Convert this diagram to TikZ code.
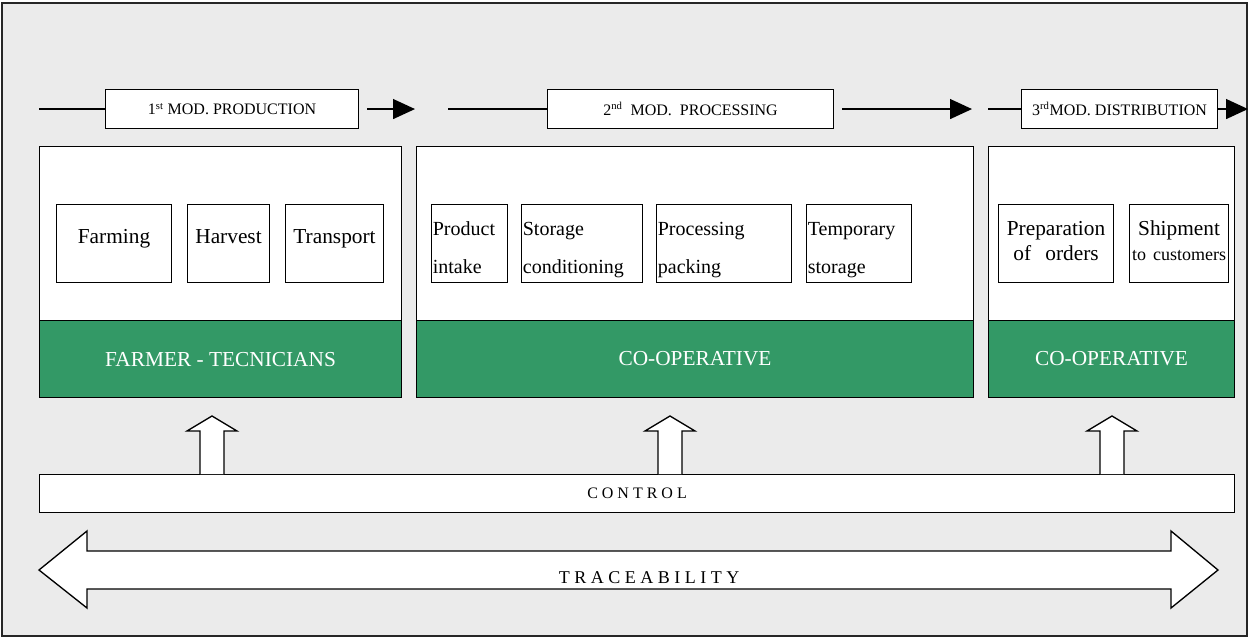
\documentclass[tikz,border=0pt]{standalone}
\usepackage{fontspec}
\setmainfont{Liberation Serif}
\usepackage{xcolor}
\usetikzlibrary{arrows.meta, positioning}

\definecolor{bggray}{HTML}{EBEBEB}
\definecolor{coopgreen}{HTML}{339966}

\tikzset{
  sz/.style 2 args={minimum width=#1*0.75pt, minimum height=#2*0.75pt},
  modbox/.style={draw, thick, fill=white, inner sep=0pt, anchor=north west,
    font=\fontsize{12}{14}\selectfont},
  panel/.style={draw, thick, fill=white, inner sep=0pt, anchor=north west},
  band/.style={draw, thick, fill=coopgreen, text=white, inner sep=0pt,
    anchor=north west, font=\fontsize{16}{19}\selectfont},
  task/.style={draw, thick, fill=white, inner sep=0pt, anchor=north west,
    text height=5pt, text depth=5pt, font=\fontsize{16}{19}\selectfont},
  tasktwo/.style={task, align=left, inner xsep=1pt, text width=#1*0.75pt-2pt,
    text height=2pt, text depth=14pt, font=\fontsize{15}{28.5}\selectfont},
  taskc/.style={task, align=center, text width=#1*0.75pt,
    text height=2pt, text depth=14pt, font=\fontsize{16}{18.75}\selectfont},
  flow/.style={line width=1pt, -{Triangle[length=16.5pt, width=15pt]}},
  block/.style={draw, line width=1pt, fill=white},
}

\begin{document}
\begin{tikzpicture}[x=0.75pt, y=-0.75pt]
  \useasboundingbox (0,0) rectangle (1249,637);
  \draw[line width=1.2pt, draw=black!85, fill=bggray] (2,3) rectangle (1247,636);

  % Modulos
  \node[modbox, sz={253}{39}] (mod1) at (105,89) {1\textsuperscript{st} MOD. PRODUCTION};
  \node[modbox, sz={286}{39}] (mod2) at (547,89) {2\textsuperscript{nd}\ \ MOD.\ \ PROCESSING};
  \node[modbox, sz={196}{39}] (mod3) at (1021,89) {3\textsuperscript{rd}MOD. DISTRIBUTION};
  \coordinate (in1) at (mod1.west -| 39,0);
  \coordinate (in2) at (mod2.west -| 448,0);
  \coordinate (in3) at (mod3.west -| 988,0);
  \coordinate (out1) at (mod1.east -| 415,0);
  \coordinate (out2) at (mod2.east -| 972,0);
  \coordinate (out3) at (mod3.east -| 1248,0);
  \draw[line width=1pt] (in1) -- (mod1.west);
  \draw[line width=1pt] (in2) -- (mod2.west);
  \draw[line width=1pt] (in3) -- (mod3.west);
  \draw[flow] ([xshift=6pt]mod1.east) -- (out1);
  \draw[flow] ([xshift=6pt]mod2.east) -- (out2);
  \draw[flow] (mod3.east) -- (out3);

  % Paneles
  \node[panel, sz={362}{251}] (prod) at (39,146) {};
  \node[panel, sz={557}{251}] (proc) at (416,146) {};
  \node[panel, sz={246}{251}] (dist) at (988,146) {};
  \node[band, sz={362}{77}] (farmer) at (39,320) {FARMER - TECNICIANS};
  \node[band, sz={557}{77}] (coop1) at (416,320) {CO-OPERATIVE};
  \node[band, sz={246}{77}] (coop2) at (988,320) {CO-OPERATIVE};

  % Tareas
  \node[task, sz={115}{78}] (farming) at (56,204) {Farming};
  \node[task, sz={82}{78}] (harvest) at (187,204) {Harvest};
  \node[task, sz={98}{78}] (transport) at (285,204) {Transport};
  \node[tasktwo=76, sz={76}{78}] (intake) at (431,204) {Product\\intake};
  \node[tasktwo=121, sz={121}{78}] (cond) at (521,204) {Storage\\conditioning};
  \node[tasktwo=135, sz={135}{78}] (pack) at (656,204) {Processing\\packing};
  \node[tasktwo=105, sz={105}{78}] (temp) at (806,204) {Temporary\\storage};
  \node[taskc=115, sz={115}{78}] (orders) at (998,204) {Preparation\\of~~orders};
  \node[taskc=99, sz={99}{78}] (ship) at (1129,204)
    {Shipment\\{\fontsize{13.5}{18}\selectfont to customers}};

  % Control
  \node[panel, sz={1195}{38}, font=\fontsize{12}{14}\selectfont] (ctrl) at (39,474)
    {C O N T R O L};
  \foreach \x in {212,670,1112}
    \draw[block] (\x-12,474) -- (\x-12,431) -- (\x-25,431) -- (\x,416)
      -- (\x+25,431) -- (\x+12,431) -- (\x+12,474);

  % Trazabilidad
  \draw[block] (39,570) -- (87,531) -- (87,551) -- (1171,551) -- (1171,531)
    -- (1218,570) -- (1171,608) -- (1171,589) -- (87,589) -- (87,608) -- cycle;
  \node[font=\fontsize{13.5}{16}\selectfont] (trace) at (649,578)
    {T R A C E A B I L I T Y};
\end{tikzpicture}
\end{document}
